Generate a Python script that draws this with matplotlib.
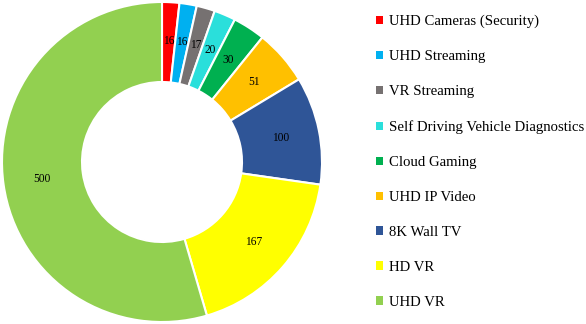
import matplotlib
matplotlib.use("Agg")
import matplotlib.pyplot as plt
from matplotlib.patches import Patch
import numpy as np

categories = ["UHD Cameras (Security)", "UHD Streaming", "VR Streaming",
              "Self Driving Vehicle Diagnostics", "Cloud Gaming", "UHD IP Video",
              "8K Wall TV", "HD VR", "UHD VR"]
values = [16, 16, 17, 20, 30, 51, 100, 167, 500]
colors = ["#FF0000", "#00B0F0", "#767171", "#2ADFDB", "#00B050",
          "#FFC000", "#2F5597", "#FFFF00", "#92D050"]

plt.rcParams['font.family'] = ['Liberation Serif', 'DejaVu Serif']

fig = plt.figure(figsize=(5.86, 3.24), dpi=100)
ax = fig.add_axes([2/586, 2/324, 320/586, 320/324])

wedges, texts = ax.pie(values, colors=colors, startangle=90, counterclock=False,
                       radius=1.0,
                       wedgeprops=dict(width=0.5, edgecolor='white', linewidth=1.5))
for w, v in zip(wedges, values):
    ang = np.deg2rad((w.theta1 + w.theta2) / 2)
    r = 0.76
    ax.text(r * np.cos(ang), r * np.sin(ang), str(v), ha='center', va='center',
            fontsize=8.3, color='black')
ax.set_xlim(-1, 1)
ax.set_ylim(-1, 1)
ax.set_aspect('equal')
ax.axis('off')

handles = [Patch(facecolor=c, edgecolor='none') for c in colors]
fig.legend(handles, categories, loc='upper left', bbox_to_anchor=(376/586, 1 - 15/324),
           frameon=False, fontsize=10.6, handlelength=0.5, handleheight=0.5,
           handletextpad=0.35, labelspacing=1.49, borderaxespad=0, borderpad=0)

fig.savefig("out.png", dpi=100)
